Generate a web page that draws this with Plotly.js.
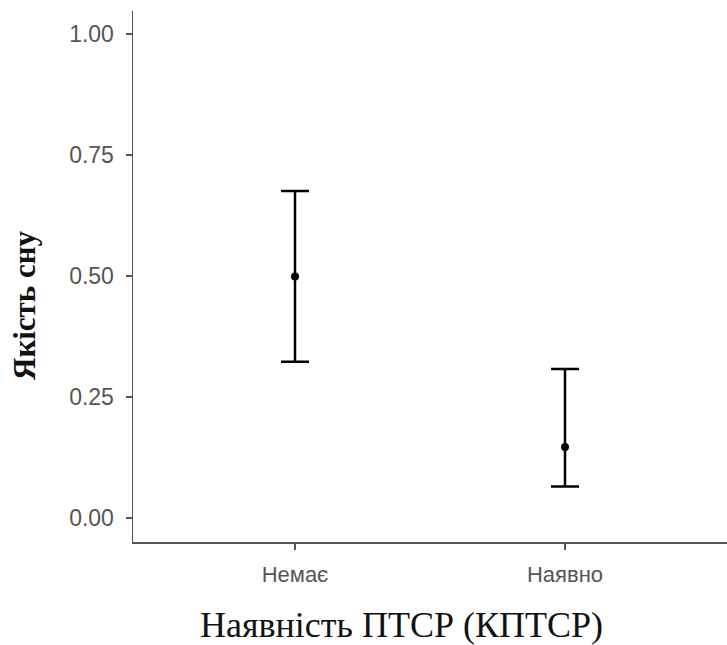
<!DOCTYPE html>
<html>
<head>
<meta charset="utf-8">
<script src="https://cdn.plot.ly/plotly-3.0.1.min.js"></script>
<style>html,body{margin:0;padding:0;background:#fff;}#chart{width:727px;height:645px;}</style>
</head>
<body>
<div id="chart"></div>
<script>
const categories = ["Немає", "Наявно"];
const means = [0.499, 0.147];
const upper = [0.676, 0.308];
const lower = [0.323, 0.065];
const yTicks = [0, 0.25, 0.5, 0.75, 1.0];
const yTickLabels = ["0.00", "0.25", "0.50", "0.75", "1.00"];
const xTitle = "Наявність ПТСР (КПТСР)";
const yTitle = "Якість сну";

const xIdx = categories.map((c, i) => i);
const trace = {
  type: "scatter",
  mode: "markers",
  x: xIdx,
  y: means,
  marker: {color: "#000", size: 8},
  error_y: {
    type: "data",
    symmetric: false,
    array: upper.map((u, i) => u - means[i]),
    arrayminus: lower.map((l, i) => means[i] - l),
    color: "#000",
    thickness: 2.5,
    width: 14
  },
  hoverinfo: "skip"
};

const layout = {
  width: 727, height: 645,
  margin: {l: 133, r: 0, t: 11, b: 103},
  paper_bgcolor: "#fff", plot_bgcolor: "#fff",
  showlegend: false,
  xaxis: {
    range: [-0.6, 1.6],
    tickvals: xIdx, ticktext: categories,
    showgrid: false, zeroline: false,
    showline: true, linecolor: "#555", linewidth: 1.5,
    ticks: "outside", ticklen: 6, tickwidth: 1.5, tickcolor: "#555",
    tickfont: {family: "Liberation Sans, Arial, sans-serif", size: 22, color: "#555"},
    ticklabelstandoff: 6
  },
  yaxis: {
    range: [-0.0496, 1.048],
    tickvals: yTicks, ticktext: yTickLabels,
    showgrid: false, zeroline: false,
    showline: true, linecolor: "#555", linewidth: 1.5,
    ticks: "outside", ticklen: 6, tickwidth: 1.5, tickcolor: "#555",
    tickfont: {family: "Liberation Sans, Arial, sans-serif", size: 23, color: "#555"},
    ticklabelstandoff: 7
  },
  annotations: [
    {
      text: xTitle, xref: "paper", yref: "paper",
      x: (401 - 133) / 594, y: (645 - 103 - 625) / 531,
      xanchor: "center", yanchor: "middle", showarrow: false,
      font: {family: "Liberation Serif, Times New Roman, serif", size: 36, color: "#111"}
    },
    {
      text: "<b>" + yTitle + "</b>", xref: "paper", yref: "paper",
      x: (24 - 133) / 594, y: (542 - 305) / 531,
      xanchor: "center", yanchor: "middle", showarrow: false, textangle: -90,
      font: {family: "Liberation Serif, Times New Roman, serif", size: 31, color: "#111"}
    }
  ]
};

Plotly.newPlot("chart", [trace], layout, {displayModeBar: false, staticPlot: true});
</script>
</body>
</html>
